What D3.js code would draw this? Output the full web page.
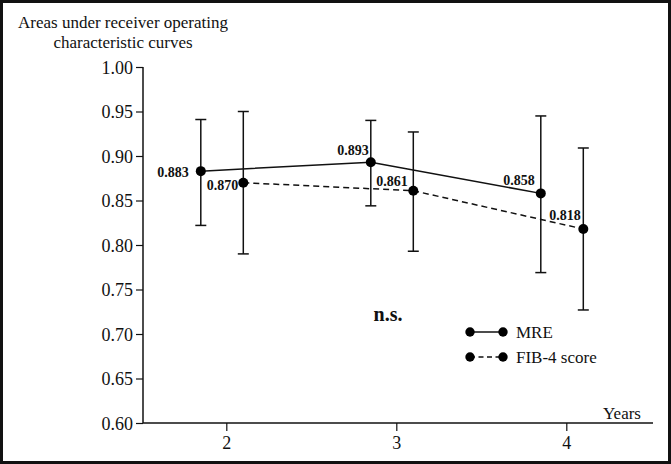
<!DOCTYPE html>
<html><head><meta charset="utf-8">
<script src="https://cdn.jsdelivr.net/npm/d3@7"></script>
<style>body{margin:0;background:#fff}svg{display:block}text{font-family:"Liberation Serif","Times New Roman",serif;fill:#111}</style>
</head><body><svg id="c" width="671" height="464"></svg>
<script>
const years = [2, 3, 4];
const yTicks = [0.60, 0.65, 0.70, 0.75, 0.80, 0.85, 0.90, 0.95, 1.00];
const seriesNames = ["MRE", "FIB-4 score"];
const mreAUC = [0.883, 0.893, 0.858];
const mreLow = [0.822, 0.844, 0.769];
const mreHigh = [0.941, 0.940, 0.945];
const fibAUC = [0.870, 0.861, 0.818];
const fibLow = [0.790, 0.793, 0.727];
const fibHigh = [0.950, 0.927, 0.909];
const mreLabels = ["0.883", "0.893", "0.858"];
const fibLabels = ["0.870", "0.861", "0.818"];

const svg = d3.select("#c");
svg.append("rect").attr("x",1.5).attr("y",1.5).attr("width",668).attr("height",461)
  .attr("fill","none").attr("stroke","#111").attr("stroke-width",3);

const x = d3.scaleLinear().domain([1.51, 4.51]).range([143, 653]);
const y = d3.scaleLinear().domain([0.6, 1.0]).range([423, 67]);

// y axis
const ya = svg.append("g").attr("transform","translate(143,0)")
  .call(d3.axisLeft(y).tickValues(yTicks).tickFormat(d3.format(".2f")).tickSize(7).tickPadding(3));
ya.attr("font-family","Liberation Serif");
ya.select(".domain").attr("d","M0,423V67").attr("stroke","#111").attr("stroke-width",1.5);
ya.selectAll(".tick line").attr("stroke","#111").attr("stroke-width",1.2);
ya.selectAll(".tick text").attr("font-size",18).attr("fill","#111").attr("dy","0.34em");
// x axis
const xa = svg.append("g").attr("transform","translate(0,423)")
  .call(d3.axisBottom(x).tickValues(years).tickFormat(d3.format("d")).tickSize(8).tickPadding(5));
xa.attr("font-family","Liberation Serif");
xa.select(".domain").attr("d","M143,0H653").attr("stroke","#111").attr("stroke-width",1.5);
xa.selectAll(".tick line").attr("stroke","#111").attr("stroke-width",1.2);
xa.selectAll(".tick text").attr("font-size",18).attr("fill","#111");

// title
svg.append("text").attr("x",123).attr("y",28).attr("text-anchor","middle").attr("font-size",17).text("Areas under receiver operating");
svg.append("text").attr("x",123).attr("y",48).attr("text-anchor","middle").attr("font-size",17).text("characteristic curves");
svg.append("text").attr("x",641).attr("y",419).attr("text-anchor","end").attr("font-size",17).text("Years");
svg.append("text").attr("x",388).attr("y",321).attr("text-anchor","middle").attr("font-size",20).attr("font-weight","bold").text("n.s.");

const series = [
  {off:-0.15, v:mreAUC, lo:mreLow, hi:mreHigh, dash:null, labels:mreLabels,
   lpos:[{dx:-12,dy:6,a:"end"},{dx:-2,dy:-7,a:"end"},{dx:-6,dy:-8,a:"end"}]},
  {off:0.10, v:fibAUC, lo:fibLow, hi:fibHigh, dash:"6,4", labels:fibLabels,
   lpos:[{dx:-5,dy:7,a:"end"},{dx:-37,dy:-5,a:"start"},{dx:-34,dy:-9,a:"start"}]}
];
series.forEach(s => {
  const pts = years.map((yr,i)=>({x:x(yr+s.off), y:y(s.v[i]), lo:y(s.lo[i]), hi:y(s.hi[i])}));
  const g = svg.append("g");
  pts.forEach(p=>{
    g.append("line").attr("x1",p.x).attr("x2",p.x).attr("y1",p.lo).attr("y2",p.hi).attr("stroke","#111").attr("stroke-width",1.5);
    [p.lo,p.hi].forEach(yy=>g.append("line").attr("x1",p.x-5.5).attr("x2",p.x+5.5).attr("y1",yy).attr("y2",yy).attr("stroke","#111").attr("stroke-width",1.5));
  });
  g.append("path").attr("d",d3.line().x(d=>d.x).y(d=>d.y)(pts)).attr("fill","none").attr("stroke","#111").attr("stroke-width",1.5)
    .attr("stroke-dasharray",s.dash);
  pts.forEach((p,i)=>{
    g.append("circle").attr("cx",p.x).attr("cy",p.y).attr("r",5).attr("fill","#000");
    const lp = s.lpos[i];
    g.append("text").attr("x",p.x+lp.dx).attr("y",p.y+lp.dy).attr("text-anchor",lp.a).attr("font-size",14).attr("font-weight","bold").text(s.labels[i]);
  });
});

// legend
const lg = svg.append("g");
seriesNames.forEach((n,i)=>{
  const yy = 332 + i*25;
  lg.append("line").attr("x1",470).attr("x2",503).attr("y1",yy).attr("y2",yy).attr("stroke","#111").attr("stroke-width",1.5)
    .attr("stroke-dasharray", i===1 ? "5,3.5" : null);
  [470,503].forEach(cx=>lg.append("circle").attr("cx",cx).attr("cy",yy).attr("r",4.7).attr("fill","#000"));
  lg.append("text").attr("x",516).attr("y",yy+5.5).attr("font-size",17).text(n);
});
</script></body></html>
